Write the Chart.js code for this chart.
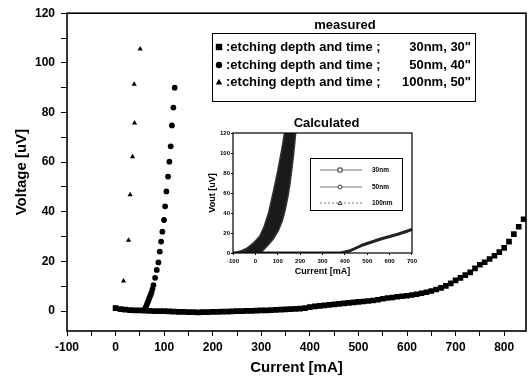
<!DOCTYPE html>
<html>
<head>
<meta charset="utf-8">
<script src="https://cdn.jsdelivr.net/npm/chart.js@4"></script>
<style>
  html, body { margin: 0; padding: 0; background: #fff; }
  #wrap { position: relative; width: 531px; height: 377px; }
  #mainChart { position: absolute; left: 0; top: 0; }
  #insetChart { position: absolute; left: 195px; top: 112px; }
</style>
</head>
<body>
<div id="wrap">
  <canvas id="mainChart" width="531" height="377"></canvas>
  <canvas id="insetChart" width="225" height="170"></canvas>
</div>
<script>
const seriesLabels = ['30nm, 30"', '50nm, 40"', '100nm, 50"'];

const sqX = [0, 10, 20, 30, 40, 50, 60, 70, 80, 90,
  100, 110, 120, 130, 140, 150, 160, 170, 180, 190,
  200, 210, 220, 230, 240, 250, 260, 270, 280, 290,
  300, 310, 320, 330, 340, 350, 360, 370, 380, 390,
  400, 410, 420, 430, 440, 450, 460, 470, 480, 490,
  500, 510, 520, 530, 540, 550, 560, 570, 580, 590,
  600, 610, 620, 630, 640, 650, 660, 670, 680, 690,
  700, 710, 720, 730, 740, 750, 760, 770, 780, 790,
  800, 810, 820, 830, 840];
const sqY = [1.2, 0.8, 0.6, 0.4, 0.3, 0.3, 0.2, 0.1, 0, 0,
  0, -0.1, -0.2, -0.3, -0.3, -0.4, -0.4, -0.5, -0.4, -0.4,
  -0.3, -0.3, -0.2, -0.2, -0.1, 0, 0, 0.1, 0.1, 0.2,
  0.3, 0.3, 0.4, 0.5, 0.6, 0.7, 0.8, 0.9, 1.0, 1.2,
  1.6, 1.9, 2.1, 2.3, 2.5, 2.7, 2.9, 3.1, 3.3, 3.5,
  3.7, 3.9, 4.1, 4.3, 4.6, 5.0, 5.3, 5.5, 5.8, 6.0,
  6.2, 6.5, 6.8, 7.2, 7.6, 8.1, 8.7, 9.4, 10.2, 11.2,
  12.4, 13.4, 14.5, 15.6, 17.2, 18.7, 19.7, 21.0, 22.3, 23.8,
  25.5, 28.0, 31.0, 34.0, 37.0];

const ciX = [60, 62, 64, 66, 68, 70, 72, 74, 76, 78, 81.4, 84.8, 88.2, 91, 93.7,
  96.4, 99.8, 102, 104.6, 108, 110.8, 113.5, 116, 119, 121.7];
const ciY = [0.5, 1.5, 2.5, 3.5, 4.5, 5.5, 6.5, 7.5, 9, 10.5, 13.4, 16.6, 19.6, 24, 28,
  32, 36.7, 42.2, 48.2, 54.2, 60.2, 66.4, 74.8, 82, 90];

const trX = [16.4, 26.7, 30, 35, 39, 38.3, 50.7];
const trY = [12.1, 28.6, 46.9, 62.2, 75.8, 91.4, 105.6];

// calculated (inset) curves
const insetLabels = ['30nm', '50nm', '100nm'];
const in30X = [-100, 380, 400, 420, 440, 460, 480, 500, 520, 540, 560, 580, 600, 620, 640, 660, 680, 700];
const in30Y = [0, 0, 1, 2, 4, 6, 8, 9.5, 11, 12.5, 14, 15.3, 16.5, 17.8, 19, 20.5, 22, 23.5];
const in50X = [-100, -50, 0, 27, 57, 80, 102, 120, 132, 145, 154, 162, 169, 175, 180];
const in50Y = [0, 0, 0, 1, 8, 14, 22, 32, 42, 56, 68, 82, 95, 108, 120];
const in100X = [-100, -80, -60, -40, -20, 0, 20, 40, 60, 80, 100, 120, 130, 150, 180];
const in100Y = [0, 1, 2.5, 4.5, 8, 12, 17, 27, 41, 61, 82, 106, 120, 148, 190];

const FONT = '"Liberation Sans", Arial, Helvetica, sans-serif';

function toPoints(xs, ys) {
    return xs.map(function(x, i) { return {x: x, y: ys[i]}; });
}

function drawMarker(ctx, style, x, y, r) {
    ctx.beginPath();
    if (style === 'rect') {
        ctx.rect(x - r, y - r, 2 * r, 2 * r);
    } else if (style === 'circle') {
        ctx.arc(x, y, r, 0, Math.PI * 2);
    } else {
        ctx.moveTo(x, y - r);
        ctx.lineTo(x + r, y + r * 0.8);
        ctx.lineTo(x - r, y + r * 0.8);
        ctx.closePath();
    }
}

// box round the plot area
const frameBox = {
    id: 'frameBox',
    afterDatasetsDraw(chart, args, opts) {
        const a = chart.chartArea;
        const ctx = chart.ctx;
        ctx.save();
        ctx.strokeStyle = '#000';
        ctx.lineWidth = opts.width || 1;
        ctx.strokeRect(a.left, a.top, a.right - a.left, a.bottom - a.top);
        ctx.restore();
    }
};

// "measured" legend
const measuredLegend = {
    id: 'measuredLegend',
    afterDraw(chart) {
        const ctx = chart.ctx;
        ctx.save();
        ctx.fillStyle = '#000';
        ctx.strokeStyle = '#000';
        ctx.textBaseline = 'middle';
        ctx.font = 'bold 13px ' + FONT;
        ctx.textAlign = 'center';
        ctx.fillText('measured', 345, 25);
        ctx.lineWidth = 1;
        ctx.strokeRect(212.5, 33.5, 263, 68);
        const rows = [47, 65, 82];
        chart.data.datasets.forEach(function(ds, i) {
            drawMarker(ctx, ds.pointStyle, 219, rows[i], 3.2);
            ctx.fill();
            ctx.textAlign = 'left';
            ctx.fillText(':etching depth and time ;', 226, rows[i]);
            ctx.textAlign = 'right';
            ctx.fillText(seriesLabels[i], 471, rows[i]);
        });
        ctx.restore();
    }
};

const mainCtx = document.getElementById('mainChart').getContext('2d');
const mainChart = new Chart(mainCtx, {
    type: 'scatter',
    data: {
        datasets: [{
            label: seriesLabels[0],
            data: toPoints(sqX, sqY),
            pointStyle: 'rect',
            pointRadius: 4,
            backgroundColor: '#000',
            borderColor: '#000',
            borderWidth: 0
        }, {
            label: seriesLabels[1],
            data: toPoints(ciX, ciY),
            pointStyle: 'circle',
            pointRadius: 2.9,
            backgroundColor: '#000',
            borderColor: '#000',
            borderWidth: 0
        }, {
            label: seriesLabels[2],
            data: toPoints(trX, trY),
            pointStyle: 'triangle',
            pointRadius: 3,
            backgroundColor: '#000',
            borderColor: '#000',
            borderWidth: 0
        }]
    },
    options: {
        responsive: false,
        animation: false,
        layout: { padding: { left: 0, right: 5, top: 10, bottom: 0 } },
        plugins: {
            legend: { display: false },
            tooltip: { enabled: false },
            frameBox: { width: 1.6 }
        },
        scales: {
            x: {
                type: 'linear',
                min: -100,
                max: 845,
                border: { display: false },
                grid: { drawOnChartArea: false, drawTicks: true, tickLength: 5, color: '#000' },
                ticks: {
                    stepSize: 50,
                    includeBounds: false,
                    autoSkip: false,
                    maxRotation: 0,
                    padding: 4,
                    color: '#000',
                    font: { family: FONT, size: 12, weight: 'bold' },
                    callback: function(v) { return v % 100 === 0 ? v : ''; }
                },
                title: {
                    display: true,
                    text: 'Current [mA]',
                    color: '#000',
                    font: { family: FONT, size: 15, weight: 'bold' },
                    padding: { top: 0, bottom: 0 }
                },
                afterFit: function(scale) { scale.height = 46; }
            },
            y: {
                type: 'linear',
                min: -8,
                max: 120,
                border: { display: false },
                grid: { drawOnChartArea: false, drawTicks: true, tickLength: 6, color: '#000' },
                ticks: {
                    stepSize: 10,
                    includeBounds: false,
                    autoSkip: false,
                    padding: 6,
                    color: '#000',
                    font: { family: FONT, size: 12, weight: 'bold' },
                    callback: function(v) { return v % 20 === 0 ? v : ''; }
                },
                title: {
                    display: true,
                    text: 'Voltage [uV]',
                    color: '#000',
                    font: { family: FONT, size: 15, weight: 'bold' },
                    padding: { top: 13, bottom: 0 }
                },
                afterFit: function(scale) { scale.width = 67; }
            }
        }
    },
    plugins: [frameBox, measuredLegend]
});

// inset: title and legend
const insetDecor = {
    id: 'insetDecor',
    afterDraw(chart) {
        const ctx = chart.ctx;
        const a = chart.chartArea;
        ctx.save();
        ctx.fillStyle = '#000';
        ctx.textBaseline = 'middle';
        ctx.textAlign = 'center';
        ctx.font = 'bold 13px ' + FONT;
        ctx.fillText('Calculated', (a.left + a.right) / 2 + 4, 11);
        ctx.strokeStyle = '#000';
        ctx.lineWidth = 1;
        ctx.strokeRect(115.5, 46.5, 92, 52);
        const rows = [58, 75, 91];
        const dashes = [[], [], [2, 2]];
        ctx.textAlign = 'left';
        ctx.font = 'bold 6.5px ' + FONT;
        chart.data.datasets.forEach(function(ds, i) {
            ctx.strokeStyle = '#777';
            ctx.setLineDash(dashes[i]);
            ctx.beginPath();
            ctx.moveTo(125, rows[i]);
            ctx.lineTo(167, rows[i]);
            ctx.stroke();
            ctx.setLineDash([]);
            drawMarker(ctx, ds.pointStyle, 145, rows[i], 2);
            ctx.fillStyle = '#fff';
            ctx.fill();
            ctx.strokeStyle = '#333';
            ctx.stroke();
            ctx.fillStyle = '#000';
            ctx.fillText(insetLabels[i], 177, rows[i]);
        });
        ctx.restore();
    }
};

const insetCtx = document.getElementById('insetChart').getContext('2d');
const insetChart = new Chart(insetCtx, {
    type: 'scatter',
    data: {
        datasets: [{
            label: insetLabels[0],
            data: toPoints(in30X, in30Y),
            showLine: true,
            pointStyle: 'rect',
            pointRadius: 0,
            borderColor: '#222',
            borderWidth: 3,
            backgroundColor: '#222'
        }, {
            label: insetLabels[1],
            data: toPoints(in50X, in50Y),
            showLine: true,
            pointStyle: 'circle',
            pointRadius: 0,
            borderColor: '#333',
            borderWidth: 1.5,
            backgroundColor: '#222'
        }, {
            label: insetLabels[2],
            data: toPoints(in100X, in100Y),
            showLine: true,
            pointStyle: 'triangle',
            pointRadius: 0,
            borderColor: '#333',
            borderWidth: 1.5,
            backgroundColor: '#1a1a1a',
            fill: '-1'
        }]
    },
    options: {
        responsive: false,
        animation: false,
        layout: { padding: { left: 0, right: 8, top: 21, bottom: 0 } },
        plugins: {
            legend: { display: false },
            tooltip: { enabled: false },
            frameBox: { width: 1.2 }
        },
        scales: {
            x: {
                type: 'linear',
                min: -100,
                max: 700,
                border: { display: false },
                grid: { drawOnChartArea: false, drawTicks: true, tickLength: 2, color: '#000' },
                ticks: {
                    stepSize: 100,
                    autoSkip: false,
                    maxRotation: 0,
                    padding: 3,
                    color: '#000',
                    font: { family: FONT, size: 6, weight: 'bold' }
                },
                title: {
                    display: true,
                    text: 'Current [mA]',
                    color: '#000',
                    font: { family: FONT, size: 9, weight: 'bold' },
                    padding: { top: 0, bottom: 4.6 }
                },
                afterFit: function(scale) { scale.height = 29; }
            },
            y: {
                type: 'linear',
                min: 0,
                max: 120,
                border: { display: false },
                grid: { drawOnChartArea: false, drawTicks: true, tickLength: 2, color: '#000' },
                ticks: {
                    stepSize: 20,
                    autoSkip: false,
                    padding: 1,
                    color: '#000',
                    font: { family: FONT, size: 6, weight: 'bold' }
                },
                title: {
                    display: true,
                    text: 'Vout [uV]',
                    color: '#000',
                    font: { family: FONT, size: 9, weight: 'bold' },
                    padding: { top: 12.6, bottom: 0 }
                },
                afterFit: function(scale) { scale.width = 38; }
            }
        }
    },
    plugins: [frameBox, insetDecor]
});
</script>
</body>
</html>
